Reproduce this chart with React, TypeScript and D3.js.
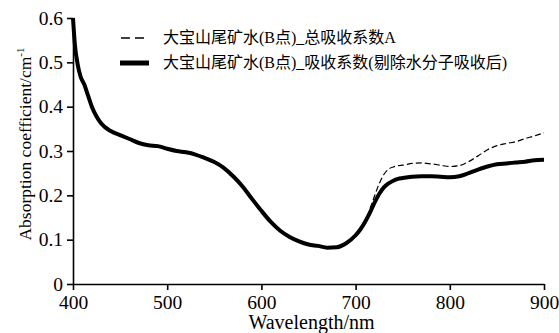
import React, { useEffect, useRef } from "react";
import * as d3 from "d3";

const wavelengths = [400,402,405,408,412,416,420,425,430,440,450,460,470,480,490,500,510,520,530,540,550,560,570,580,590,600,610,620,630,640,650,660,670,680,690,700,705,710,715,720,725,730,735,740,745,750,760,770,780,790,800,810,820,830,840,850,860,870,880,890,900];

const correctedAbs = [0.600,0.540,0.495,0.468,0.450,0.425,0.400,0.378,0.362,0.345,0.336,0.327,0.318,0.313,0.311,0.305,0.300,0.297,0.292,0.284,0.275,0.262,0.243,0.220,0.192,0.165,0.140,0.120,0.106,0.096,0.089,0.086,0.082,0.083,0.092,0.110,0.123,0.140,0.160,0.183,0.203,0.218,0.227,0.233,0.237,0.239,0.242,0.243,0.243,0.242,0.241,0.243,0.250,0.258,0.265,0.270,0.272,0.274,0.276,0.279,0.280];

const totalAbs = [0.600,0.540,0.495,0.468,0.450,0.425,0.400,0.378,0.362,0.345,0.336,0.327,0.318,0.313,0.311,0.305,0.300,0.297,0.292,0.284,0.275,0.262,0.243,0.220,0.192,0.165,0.140,0.120,0.106,0.096,0.089,0.086,0.082,0.083,0.092,0.110,0.123,0.140,0.168,0.198,0.226,0.247,0.259,0.264,0.267,0.268,0.272,0.273,0.271,0.268,0.265,0.267,0.276,0.289,0.303,0.312,0.317,0.321,0.328,0.334,0.341];

const xTicks = [400, 500, 600, 700, 800, 900];
const yTicks = [0, 0.1, 0.2, 0.3, 0.4, 0.5, 0.6];

const legendLabels = ["大宝山尾矿水(B点)_总吸收系数A", "大宝山尾矿水(B点)_吸收系数(剔除水分子吸收后)"];

const FONT = "'Liberation Serif', 'Times New Roman', 'Noto Sans CJK SC', serif";

export default function App() {
  const xAxisRef = useRef<SVGGElement>(null);
  const yAxisRef = useRef<SVGGElement>(null);

  const left = 73, right = 544, top = 18, bottom = 284;
  const x = d3.scaleLinear().domain([400, 900]).range([left, right]);
  const y = d3.scaleLinear().domain([0, 0.6]).range([bottom, top]);

  const line = (vals: number[]) =>
    d3.line<number>()
      .x((_, i) => x(wavelengths[i]))
      .y((d) => y(d))
      .curve(d3.curveMonotoneX)(vals) || "";

  useEffect(() => {
    const gx = d3.select(xAxisRef.current!);
    gx.call(d3.axisBottom(x).tickValues(xTicks).tickSize(6).tickSizeOuter(0).tickPadding(5).tickFormat(d3.format("d")) as any);
    gx.selectAll("text").attr("font-size", 19.5).attr("font-family", FONT).attr("fill", "#000");
    gx.selectAll("path,line").attr("stroke", "#000").attr("stroke-width", 1.6);

    const gy = d3.select(yAxisRef.current!);
    gy.call(d3.axisLeft(y).tickValues(yTicks).tickSize(6).tickSizeOuter(0).tickPadding(4)
      .tickFormat((d: any) => (d === 0 ? "0" : (+d).toFixed(1))) as any);
    gy.selectAll("text").attr("font-size", 19.5).attr("font-family", FONT).attr("fill", "#000");
    gy.selectAll("path,line").attr("stroke", "#000").attr("stroke-width", 1.6);
  }, []);

  return (
    <svg width={559} height={333} style={{ position: "absolute", left: 0, top: 0, background: "#fff" }}>
      <path d={line(totalAbs)} fill="none" stroke="#000" strokeWidth={1.2} strokeDasharray="6,3" />
      <path d={line(correctedAbs)} fill="none" stroke="#000" strokeWidth={4} strokeLinejoin="round" />
      <g ref={xAxisRef} transform={`translate(0,${bottom})`} />
      <g ref={yAxisRef} transform={`translate(${left},0)`} />
      <text x={(left + right) / 2 + 3} y={329} textAnchor="middle" fontFamily={FONT} fontSize={20}>Wavelength/nm</text>
      <text transform={`translate(31,144) rotate(-90)`} textAnchor="middle" fontFamily={FONT} fontSize={17.5}>
        Absorption coefficient/cm<tspan dy={-7} fontSize={11}>-1</tspan>
      </text>
      <line x1={121} x2={147} y1={38} y2={38} stroke="#000" strokeWidth={1.5} strokeDasharray="9,5" />
      <line x1={120} x2={149} y1={63} y2={63} stroke="#000" strokeWidth={5} />
      <text x={163} y={43} fontFamily={FONT} fontSize={16}>{legendLabels[0]}</text>
      <text x={163} y={68} fontFamily={FONT} fontSize={16}>{legendLabels[1]}</text>
    </svg>
  );
}
